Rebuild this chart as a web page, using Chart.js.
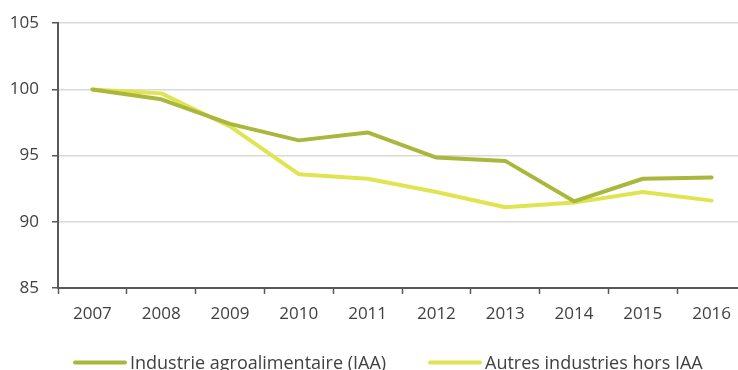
<!DOCTYPE html>
<html lang="fr">
<head>
<meta charset="utf-8">
<title>Indice IAA / autres industries</title>
<script src="https://cdn.jsdelivr.net/npm/chart.js@4/dist/chart.umd.min.js"></script>
<style>
  html, body { margin: 0; padding: 0; background: #fff; overflow: hidden; }
  #wrap { width: 738px; height: 370px; overflow: hidden; }
</style>
</head>
<body>
<div id="wrap"><canvas id="chart" width="746" height="370"></canvas></div>
<script>
const years = ['2007', '2008', '2009', '2010', '2011', '2012', '2013', '2014', '2015', '2016'];
const iaa = [100, 99.25, 97.4, 96.15, 96.75, 94.85, 94.6, 91.55, 93.25, 93.35];
const autres = [100, 99.7, 97.2, 93.6, 93.25, 92.25, 91.1, 91.45, 92.25, 91.6];
const yTicks = [85, 90, 95, 100, 105];

const seriesNames = ['Industrie agroalimentaire (IAA)', 'Autres industries hors IAA'];
const seriesColors = ['#a9b83d', '#e1e451'];

const FONT = '"Open Sans", "Noto Sans", sans-serif';
const TEXT = '#404040';
const AXIS = '#58595b';

// legend along the bottom edge: short thick line then the label
const bottomLegend = {
  id: 'bottomLegend',
  afterDraw(chart) {
    const ctx = chart.ctx;
    const starts = [73, 428];
    ctx.save();
    ctx.font = '18px ' + FONT;
    ctx.textBaseline = 'alphabetic';
    chart.data.datasets.forEach((ds, i) => {
      const x = starts[i];
      ctx.strokeStyle = ds.borderColor;
      ctx.lineWidth = 4;
      ctx.lineCap = 'round';
      ctx.beginPath();
      ctx.moveTo(x + 2, 362.5);
      ctx.lineTo(x + 52, 362.5);
      ctx.stroke();
      ctx.fillStyle = TEXT;
      ctx.fillText(ds.label, x + 57, 368.5);
    });
    ctx.restore();
  }
};

new Chart(document.getElementById('chart'), {
  type: 'line',
  data: {
    labels: years,
    datasets: [
      { label: seriesNames[0], data: iaa, borderColor: seriesColors[0] },
      { label: seriesNames[1], data: autres, borderColor: seriesColors[1] }
    ]
  },
  options: {
    responsive: false,
    animation: false,
    layout: { padding: { top: 22, right: 0, bottom: 42, left: 0 } },
    elements: {
      line: { borderWidth: 4, tension: 0, borderJoinStyle: 'round', borderCapStyle: 'round' },
      point: { radius: 0, hoverRadius: 0 }
    },
    plugins: {
      legend: { display: false },
      tooltip: { enabled: false }
    },
    scales: {
      x: {
        offset: true,
        grid: {
          offset: true,
          drawOnChartArea: false,
          drawTicks: true,
          tickLength: 6,
          tickColor: AXIS,
          tickWidth: 1.5
        },
        border: { color: AXIS, width: 2 },
        ticks: { color: TEXT, font: { family: FONT, size: 17 }, padding: 10, maxRotation: 0 },
        afterFit(scale) { scale.height = 40; }
      },
      y: {
        min: 85,
        max: 105,
        afterBuildTicks(scale) { scale.ticks = yTicks.map(v => ({ value: v })); },
        grid: {
          color: '#d9d9d9',
          lineWidth: 1.5,
          drawTicks: true,
          tickLength: 6,
          tickColor: AXIS,
          tickWidth: 1.5
        },
        border: { color: AXIS, width: 2 },
        ticks: { color: TEXT, font: { family: FONT, size: 17 }, padding: 13 },
        afterFit(scale) { scale.width = 58; }
      }
    }
  },
  plugins: [bottomLegend]
});
</script>
</body>
</html>
